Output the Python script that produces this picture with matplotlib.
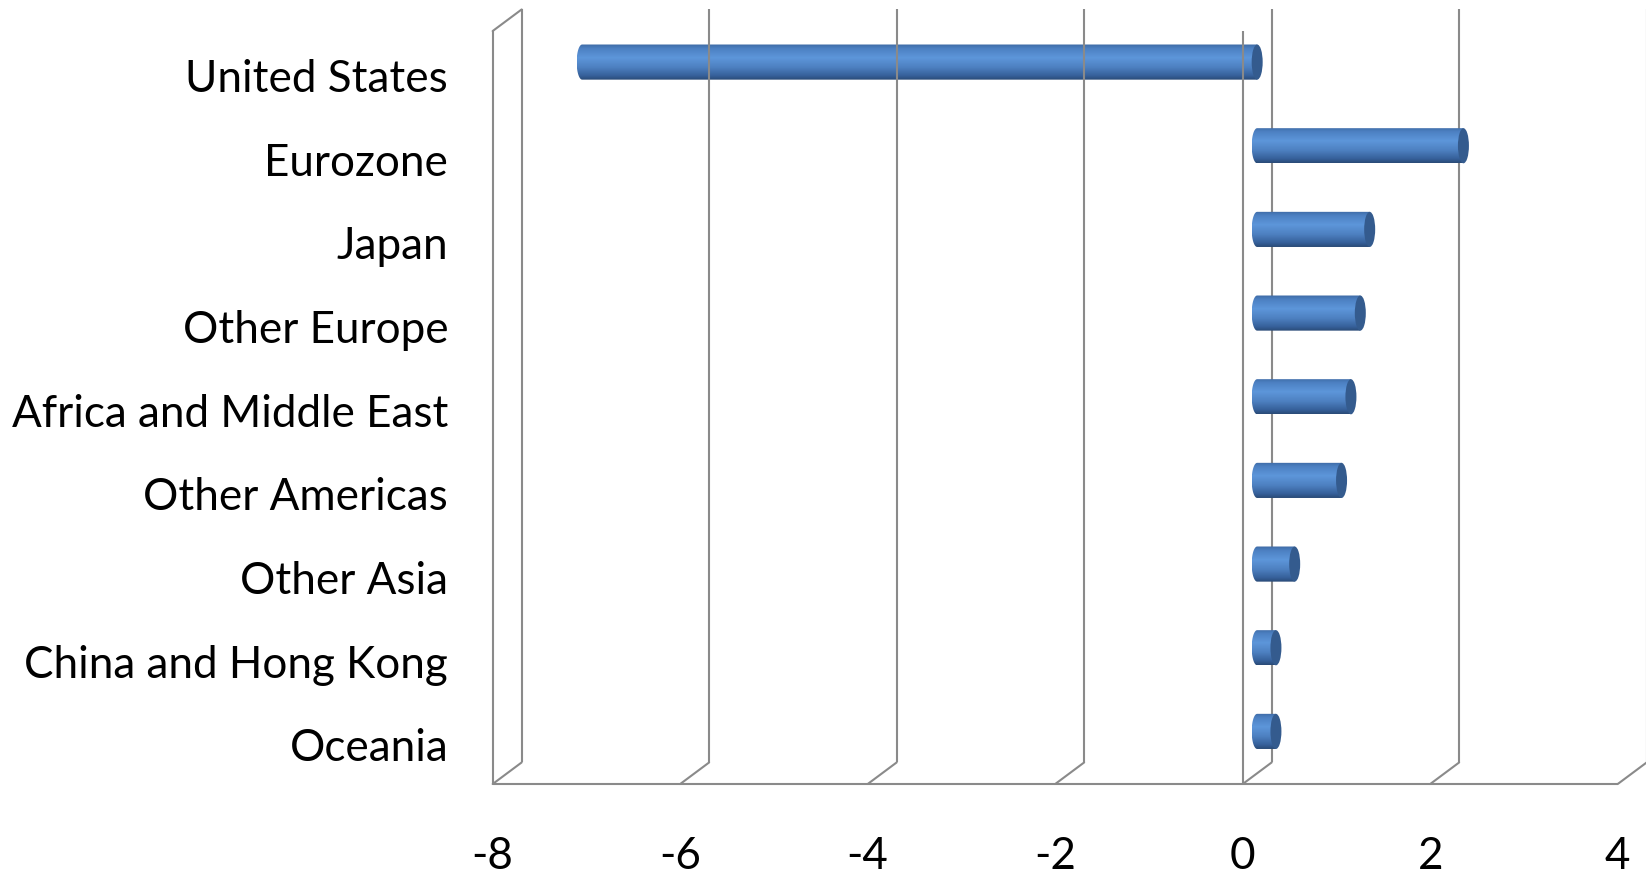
import numpy as np
import matplotlib.pyplot as plt
from matplotlib import transforms
from matplotlib.patches import Ellipse, Polygon, ConnectionPatch
from matplotlib.colors import LinearSegmentedColormap

regions = ["United States", "Eurozone", "Japan", "Other Europe",
           "Africa and Middle East", "Other Americas", "Other Asia",
           "China and Hong Kong", "Oceania"]
values = [-7.2, 2.2, 1.2, 1.1, 1.0, 0.9, 0.4, 0.2, 0.2]
x_ticks = [-8, -6, -4, -2, 0, 2, 4]

plt.rcParams['font.family'] = ['Lato', 'DejaVu Sans']
plt.rcParams['axes.unicode_minus'] = False

fig = plt.figure(figsize=(16.46, 8.77), dpi=100)
ax = fig.add_axes([0.2993, 0.1060, 0.6835, 0.8586])
ax.set_xlim(-8, 4)
ax.set_ylim(len(regions) - 0.5, -0.5)
for s in ax.spines.values():
    s.set_visible(False)

# depth of the 3-D box in pixels; bars sit half way back
DX, DY = 29, 21.6
back = transforms.offset_copy(ax.transData, fig=fig, x=DX, y=DY, units='dots')
mid = transforms.offset_copy(ax.transData, fig=fig, x=DX / 2, y=DY / 2, units='dots')

grid_kw = dict(color='#8a8a8a', lw=1.5, solid_capstyle='butt')
y_top, y_bot = -0.5, len(regions) - 0.5


def diag(x, y):
    con = ConnectionPatch((x, y), (x, y), coordsA=ax.transData, coordsB=back,
                          arrowstyle='-', shrinkA=0, shrinkB=0,
                          color='#8a8a8a', lw=1.5, zorder=1)
    ax.add_artist(con)


# back wall gridlines and floor diagonals
for x in x_ticks:
    ax.plot([x, x], [y_top, y_bot], transform=back, clip_on=False,
            zorder=4 if x < 0 else 1, **grid_kw)
    diag(x, y_bot)
diag(x_ticks[0], y_top)

# front edges: left wall, value axis at zero, floor
ax.plot([x_ticks[0], x_ticks[0]], [y_top, y_bot], clip_on=False, zorder=5, **grid_kw)
ax.plot([0, 0], [y_top, y_bot], clip_on=False, zorder=5, **grid_kw)
ax.plot([x_ticks[0], x_ticks[-1]], [y_bot, y_bot], clip_on=False, zorder=5, **grid_kw)

# cylinders
cyl = LinearSegmentedColormap.from_list('cyl', [
    (0.0, '#3d69a3'), (0.12, '#4c80c2'), (0.38, '#5d96da'),
    (0.65, '#4d80c0'), (0.88, '#36609a'), (1.0, '#2a4a76')])
grad = np.linspace(0, 1, 256).reshape(-1, 1)
ux = ax.transData.transform((1, 0))[0] - ax.transData.transform((0, 0))[0]
rx = 5.5 / ux
bar_h = 0.42
theta = np.linspace(np.pi / 2, 3 * np.pi / 2, 40)

for i, v in enumerate(values):
    lo, hi = min(0, v), max(0, v)
    xs = np.concatenate([lo + rx * np.cos(theta), [hi, hi]])
    ys = np.concatenate([i + bar_h / 2 * np.sin(theta), [i - bar_h / 2, i + bar_h / 2]])
    body = Polygon(np.column_stack([xs, ys]), closed=True, transform=mid,
                   facecolor='none', edgecolor='none')
    ax.add_patch(body)
    im = ax.imshow(grad, cmap=cyl, extent=(lo - rx, hi, i + bar_h / 2, i - bar_h / 2),
                   transform=mid, aspect='auto', interpolation='bilinear', zorder=2)
    im.set_clip_path(body)
    ax.add_patch(Ellipse((hi, i), 2 * rx, bar_h, transform=mid,
                         facecolor='#345b8e', edgecolor='none', zorder=3))

ax.set_xlim(-8, 4)
ax.set_ylim(y_bot, y_top)
ax.set_yticks(range(len(regions)), regions)
ax.set_xticks(x_ticks, [str(t) for t in x_ticks])
ax.tick_params(axis='y', length=0, pad=32, labelsize=31.7)
ax.tick_params(axis='x', length=0, pad=37.5, labelsize=31.7)

# nudge category labels down a little
shift = transforms.ScaledTranslation(0, -2.5 / 100, fig.dpi_scale_trans)
for lab in ax.get_yticklabels():
    lab.set_transform(lab.get_transform() + shift)

fig.savefig('out.png', dpi=100)
